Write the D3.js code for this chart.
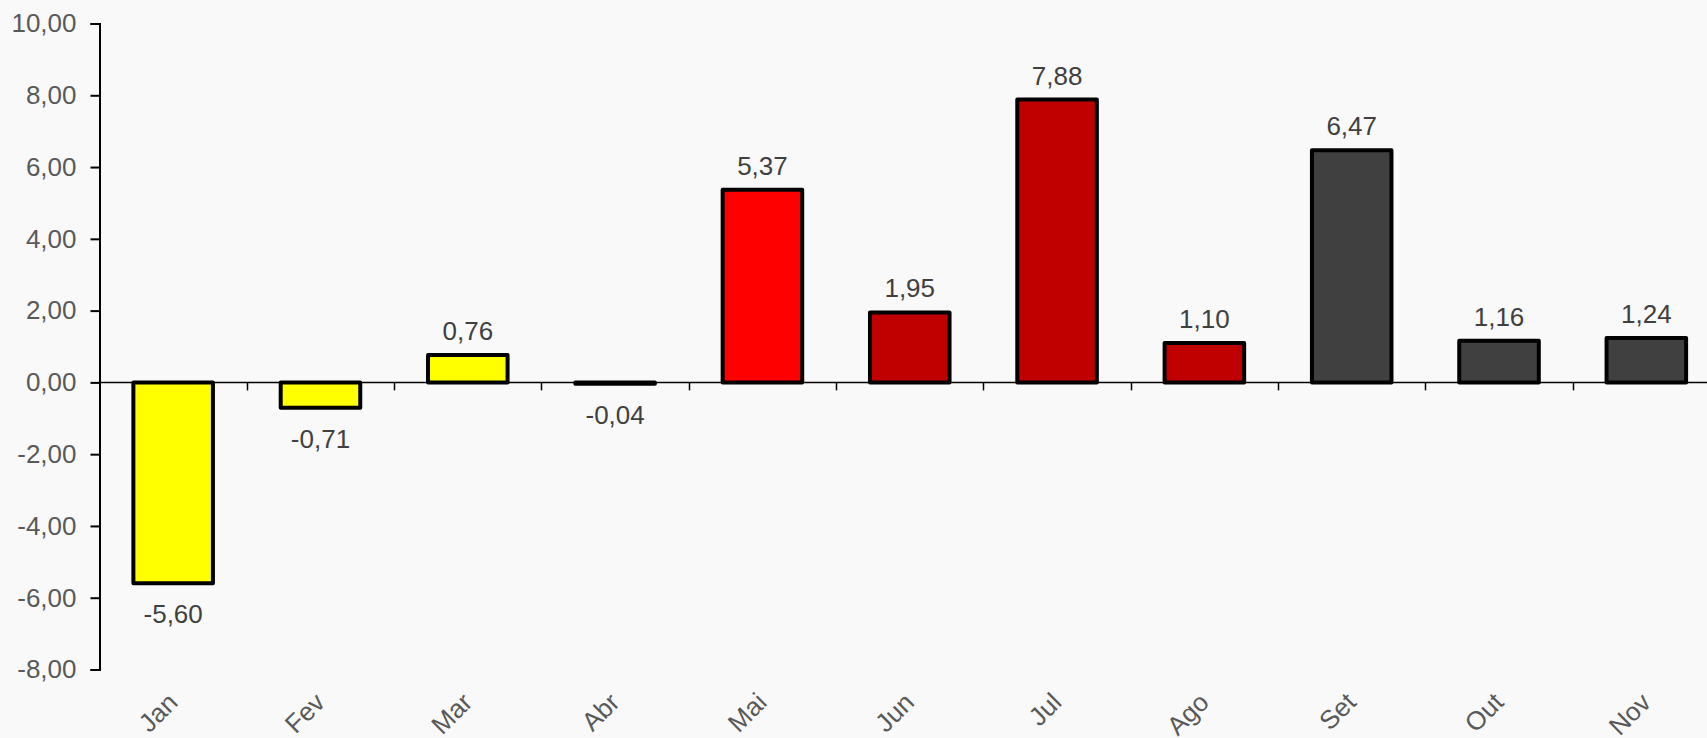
<!DOCTYPE html>
<html>
<head>
<meta charset="utf-8">
<script src="https://cdn.jsdelivr.net/npm/d3@7"></script>
<style>
  body { margin: 0; background: #f9f9f9; overflow: hidden; }
  svg { display: block; font-family: "Liberation Sans", Arial, sans-serif; }
</style>
</head>
<body>
<svg id="chart" width="1707" height="738"></svg>
<script>
// months and monthly values
const months = ['Jan', 'Fev', 'Mar', 'Abr', 'Mai', 'Jun', 'Jul', 'Ago', 'Set', 'Out', 'Nov'];
const values = [-5.60, -0.71, 0.76, -0.04, 5.37, 1.95, 7.88, 1.10, 6.47, 1.16, 1.24];
const barColors = ['#ffff00', '#ffff00', '#ffff00', '#ffff00', '#ff0000', '#c00000', '#c00000', '#c00000', '#404040', '#404040', '#404040'];
const yTicks = [-8, -6, -4, -2, 0, 2, 4, 6, 8, 10];

const svg = d3.select('svg#chart');
// brazilian style: comma decimal, plain hyphen
const fmt = (v) => v.toFixed(2).replace('.', ',');

// scales
const xScale = d3.scaleBand()
  .domain(months)
  .range([99.5, 1720])
  .paddingInner(0.46)
  .paddingOuter(0.23);

const yScale = d3.scaleLinear()
  .domain([-8, 10])
  .range([669.5, 23.5]);

// y axis
const yAxis = svg.append('g')
  .attr('transform', 'translate(99.5,0)')
  .call(d3.axisLeft(yScale).tickValues(yTicks).tickSize(9).tickPadding(14).tickFormat(fmt));
yAxis.select('.domain').attr('stroke', '#000').attr('stroke-width', 2);
yAxis.selectAll('.tick line').attr('stroke', '#000').attr('stroke-width', 2);
yAxis.selectAll('text')
  .attr('fill', '#595959')
  .style('font-size', '26px');

// bars
svg.selectAll('rect.bar')
  .data(values)
  .enter()
  .append('rect')
  .attr('class', 'bar')
  .attr('x', (d, i) => xScale(months[i]))
  .attr('y', (d) => yScale(Math.max(0, d)))
  .attr('width', xScale.bandwidth())
  .attr('height', (d) => Math.abs(yScale(d) - yScale(0)))
  .attr('fill', (d, i) => barColors[i])
  .attr('stroke', '#000')
  .attr('stroke-width', 4)
  .attr('stroke-linejoin', 'round');

// x axis along zero, ticks between categories
const step = xScale.step();
const zeroY = yScale(0);
svg.append('line')
  .attr('x1', 99.5).attr('x2', 1707)
  .attr('y1', zeroY).attr('y2', zeroY)
  .attr('stroke', '#000').attr('stroke-width', 1.5);

svg.selectAll('line.xtick')
  .data(months.slice(1))
  .enter()
  .append('line')
  .attr('class', 'xtick')
  .attr('x1', (d) => Math.round(xScale(d) - step * 0.46 / 2) + 0.5)
  .attr('x2', (d) => Math.round(xScale(d) - step * 0.46 / 2) + 0.5)
  .attr('y1', zeroY).attr('y2', zeroY + 8)
  .attr('stroke', '#000').attr('stroke-width', 1.5);

// value labels
svg.selectAll('text.val')
  .data(values)
  .enter()
  .append('text')
  .attr('class', 'val')
  .text((d) => fmt(d))
  .attr('x', (d, i) => xScale(months[i]) + xScale.bandwidth() / 2)
  .attr('y', (d) => (d >= 0 ? yScale(d) - 15 : yScale(d) + 40))
  .attr('text-anchor', 'middle')
  .attr('fill', '#404040')
  .style('font-size', '26px');

// category labels, rotated
svg.selectAll('text.cat')
  .data(months)
  .enter()
  .append('text')
  .attr('class', 'cat')
  .text((d) => d)
  .attr('text-anchor', 'end')
  .attr('transform', (d) => `translate(${xScale(d) + xScale.bandwidth() / 2 + 6},${704}) rotate(-45)`)
  .attr('fill', '#595959')
  .style('font-size', '26px');
</script>
</body>
</html>
